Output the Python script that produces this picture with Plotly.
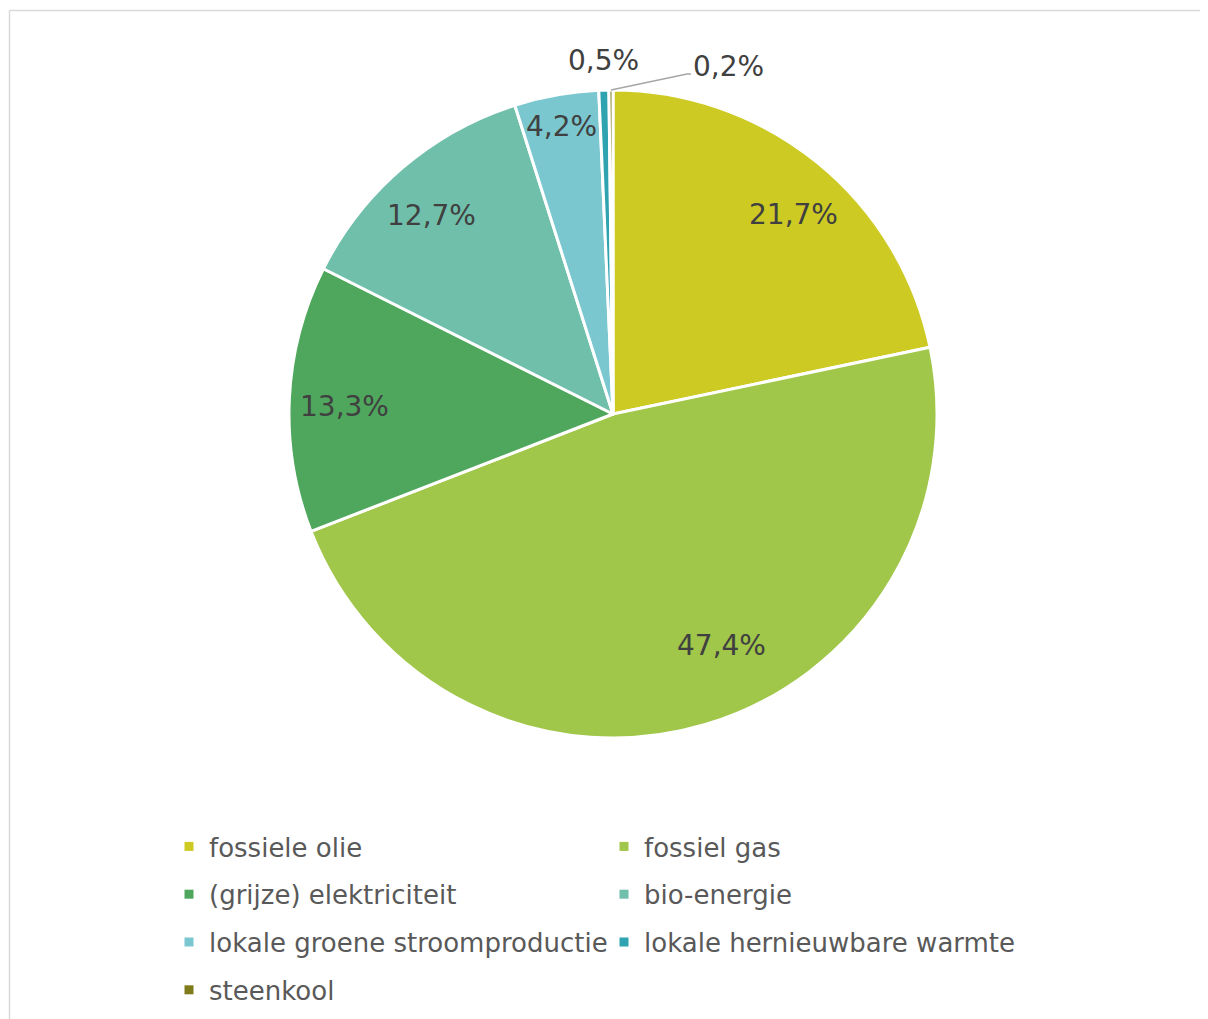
import math
import plotly.graph_objects as go

labels = ["fossiele olie", "fossiel gas", "(grijze) elektriciteit", "bio-energie",
          "lokale groene stroomproductie", "lokale hernieuwbare warmte", "steenkool"]
values = [21.7, 47.4, 13.3, 12.7, 4.2, 0.5, 0.2]
text_labels = ["21,7%", "47,4%", "13,3%", "12,7%", "4,2%", "0,5%", "0,2%"]
colors = ["#CDCA24", "#A0C64A", "#4FA75D", "#70BFAA", "#7AC7CF", "#2FA3B0", "#7F7B1A"]

W, H = 1208, 1019
OFF = 8  # page body margin
CX, CY, R = 613 - OFF, 414 - OFF, 324
FONT = "DejaVu Sans"
label_radius = [0.83, 0.79, 0.83, 0.83, 0.90, 1.09, None]
label_angle_shift = [3, -8.6, -1, -2, 0, 0, 0]

fig = go.Figure()
fig.add_trace(go.Pie(
    labels=labels, values=values, sort=False, direction="clockwise", rotation=0,
    marker=dict(colors=colors, line=dict(color="white", width=3)),
    textinfo="none", hoverinfo="label+percent", showlegend=False,
    domain=dict(x=[(CX - R) / W, (CX + R) / W], y=[1 - (CY + R) / H, 1 - (CY - R) / H]),
))

def px2paper(x, y):
    return x / W, 1 - y / H

total = sum(values)
cum = 0
annotations = []
shapes = []
for i, v in enumerate(values):
    mid = (cum + v / 2) / total * 2 * math.pi
    cum += v
    f = label_radius[i]
    if f is not None:
        a = mid + math.radians(label_angle_shift[i])
        x = CX + f * R * math.sin(a)
        y = CY - f * R * math.cos(a)
        ax, ay = px2paper(x, y)
        annotations.append(dict(x=ax, y=ay, xref="paper", yref="paper", text=text_labels[i],
                                showarrow=False, xanchor="center", yanchor="middle",
                                font=dict(family=FONT, size=28, color="#404040")))
    else:
        ex = CX + R * math.sin(mid)
        ey = CY - R * math.cos(mid)
        bx, by = ex + 76, ey - 16
        tx, ty = bx + 4, ey - 24
        p0 = px2paper(ex, ey)
        p1 = px2paper(bx, by)
        p2 = px2paper(bx + 4, by)
        shapes.append(dict(type="path", xref="paper", yref="paper",
                           path=f"M {p0[0]},{p0[1]} L {p1[0]},{p1[1]} L {p2[0]},{p2[1]}",
                           line=dict(color="#A6A6A6", width=1.5)))
        ax, ay = px2paper(tx, ty)
        annotations.append(dict(x=ax, y=ay, xref="paper", yref="paper", text=text_labels[i],
                                showarrow=False, xanchor="left", yanchor="middle",
                                font=dict(family=FONT, size=28, color="#404040")))

# legend entries via dummy traces (two columns)
for i, (lab, col) in enumerate(zip(labels, colors)):
    fig.add_trace(go.Scatter(
        x=[None], y=[None], mode="markers", name=lab,
        marker=dict(symbol="square", size=9, color=col),
        legend="legend" if i % 2 == 0 else "legend2",
        legendgroup=f"g{i}", hoverinfo="skip",
    ))

legend_common = dict(font=dict(family=FONT, size=26, color="#595959"),
                     bgcolor="rgba(0,0,0,0)", tracegroupgap=11, itemwidth=30,
                     yanchor="top", xanchor="left", orientation="v")

# border (top and left edges of the chart frame)
shapes.append(dict(type="line", xref="paper", yref="paper",
                   x0=1.5 / W, x1=1.0, y0=1 - 2.5 / H, y1=1 - 2.5 / H,
                   line=dict(color="#D9D9D9", width=1.5), layer="below"))
shapes.append(dict(type="line", xref="paper", yref="paper",
                   x0=1.5 / W, x1=1.5 / W, y0=0, y1=1 - 2.5 / H,
                   line=dict(color="#D9D9D9", width=1.5), layer="below"))

fig.update_layout(
    width=W, height=H, margin=dict(l=0, r=0, t=0, b=0),
    paper_bgcolor="white", plot_bgcolor="white",
    xaxis=dict(visible=False), yaxis=dict(visible=False),
    legend=dict(x=(170 - OFF - 1) / W, y=1 - (828 - OFF - 5) / H, **legend_common),
    legend2=dict(x=(610 - OFF - 6) / W, y=1 - (828 - OFF - 5) / H, **legend_common),
    annotations=annotations, shapes=shapes,
)

fig.write_html("out.html")
